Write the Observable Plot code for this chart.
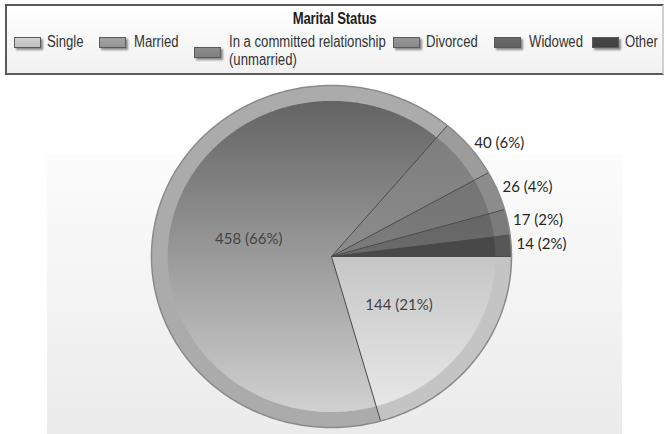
<!DOCTYPE html>
<html>
<head>
<meta charset="utf-8">
<script src="https://cdn.jsdelivr.net/npm/d3@7"></script>
<script src="https://cdn.jsdelivr.net/npm/@observablehq/plot@0.6"></script>
<style>
  html, body { margin: 0; padding: 0; background: #ffffff; }
  #page { position: relative; width: 667px; height: 434px; overflow: hidden; background: #ffffff; }
  #legend { position: absolute; left: 5px; top: 4px; width: 655px; height: 67px;
            border: 2px solid #5a5a5a; border-right-color: #d0d0d0; background: linear-gradient(#ffffff, #f1f1f1);
            font-family: "Liberation Sans", Arial, sans-serif;
            color: #333; }
  #legend .title { position: absolute; left: 0; width: 100%; top: 4px; text-align: center;
                   font-weight: bold; font-size: 16px; color: #1e1e1e;
                   transform: scaleX(0.82); transform-origin: 50% 0; letter-spacing: -0.2px; }
  #legend .sw { position: absolute; width: 25px; height: 9px; border: 1px solid #5a5a5a;
                box-shadow: 2px 2px 2px #8a8a8a; }
  #legend .lab { position: absolute; font-size: 16px; line-height: 18px; white-space: pre;
                 transform: scaleX(0.82); transform-origin: 0 0; }
  #panel { position: absolute; left: 47px; top: 154px; width: 575px; height: 280px;
           background: linear-gradient(#fcfcfc, #ebebeb); }
  #chart { position: absolute; left: 0; top: 80px; }
</style>
</head>
<body>
<div id="page">
  <div id="panel"></div>
  <div id="legend"><div class="title">Marital Status</div></div>
  <div id="chart"></div>
</div>
<script>
// ---- data ----
const categories = ["Single", "Married", "In a committed relationship\n(unmarried)", "Divorced", "Widowed", "Other"];
const counts = [144, 458, 40, 26, 17, 14];
const percentLabels = ["21%", "66%", "6%", "4%", "2%", "2%"];
// ---- styles ----
const innerTop    = ["#c6c6c6", "#5e5e5e", "#787878", "#6a6a6a", "#5a5a5a", "#3c3c3c"];
const innerBottom = ["#ececec", "#d6d6d6", "#8c8c8c", "#7c7c7c", "#6a6a6a", "#484848"];
const rimColors   = ["#c4c4c4", "#ababab", "#9c9c9c", "#8c8c8c", "#7a7a7a", "#575757"];
const swatchColors = ["#d2d2d2", "#a3a3a3", "#8c8c8c", "#969696", "#6a6a6a", "#474747"];
const swatchPos = [[14, 37], [99, 37], [194, 47], [393, 37], [494, 37], [592, 37]];
const textPos   = [[47, 33], [134, 33], [229, 33], [426, 33], [529, 33], [625, 33]];

// ---- legend (HTML) ----
const legend = document.getElementById("legend");
categories.forEach((c, i) => {
  const s = document.createElement("div");
  s.className = "sw";
  s.style.left = (swatchPos[i][0] - 7) + "px";
  s.style.top = (swatchPos[i][1] - 6) + "px";
  s.style.background = `linear-gradient(${swatchColors[i]}, ${d3.color(swatchColors[i]).darker(0.25)})`;
  legend.appendChild(s);
  const t = document.createElement("div");
  t.className = "lab";
  t.style.left = (textPos[i][0] - 7) + "px";
  t.style.top = (textPos[i][1] - 6) + "px";
  t.textContent = c;
  legend.appendChild(t);
});

// ---- pie geometry from the data ----
const W = 667, H = 354;
const cx = 331, cy = 176, rx = 180, ry = 171, innerFrac = 0.91;
const arcs = d3.pie().sort(null).value(d => d)
  .startAngle(Math.PI / 2).endAngle(Math.PI / 2 + 2 * Math.PI)(counts);

function slicePoints(a, r, i) {
  const pts = [{x: 0, y: 0, k: i}];
  const n = Math.max(4, Math.ceil((a.endAngle - a.startAngle) / 0.01));
  for (let j = 0; j <= n; j++) {
    const t = a.startAngle + (a.endAngle - a.startAngle) * j / n;
    pts.push({x: r * Math.sin(t), y: r * Math.cos(t), k: i});
  }
  return pts;
}

const marks = [];
arcs.forEach((a, i) => {
  marks.push(Plot.line(slicePoints(a, 1, i), {x: "x", y: "y", curve: "linear-closed", fill: rimColors[i], stroke: "none"}));
});
arcs.forEach((a, i) => {
  marks.push(Plot.line(slicePoints(a, innerFrac, i), {x: "x", y: "y", curve: "linear-closed", fill: `url(#g${i})`, stroke: "none"}));
});
// separators
const seps = arcs.map(a => ({x: Math.sin(a.startAngle), y: Math.cos(a.startAngle)}));
marks.push(Plot.link(seps, {x1: 0, y1: 0, x2: "x", y2: "y", stroke: "#4a4a4a", strokeWidth: 1}));
// outline
const ring = d3.range(0, 361).map(d => ({x: Math.sin(d * Math.PI / 180), y: Math.cos(d * Math.PI / 180)}));
marks.push(Plot.line(ring, {x: "x", y: "y", stroke: "#8a8a8a", strokeWidth: 1.5}));

// labels
const labels = arcs.map((a, i) => {
  const m = (a.startAngle + a.endAngle) / 2;
  const inside = counts[i] / d3.sum(counts) > 0.1;
  const r = inside ? 0.47 : 1.03;
  return {x: r * Math.sin(m), y: r * Math.cos(m), text: `${counts[i]} (${percentLabels[i]})`, inside};
});
marks.push(Plot.text(labels.filter(d => d.inside), {x: "x", y: "y", text: "text", fill: "#444",
  fontSize: 15, fontFamily: "Lato, 'Open Sans', sans-serif", textAnchor: "middle"}));
marks.push(Plot.text(labels.filter(d => !d.inside), {x: "x", y: "y", text: "text", fill: "#262626",
  fontSize: 15, fontFamily: "Lato, 'Open Sans', sans-serif", textAnchor: "start", dy: -1}));

const svg = Plot.plot({
  width: W, height: H,
  margin: 0,
  x: {domain: [-1, 1], range: [cx - rx, cx + rx], axis: null},
  y: {domain: [-1, 1], range: [cy + ry, cy - ry], axis: null},
  style: {background: "transparent", overflow: "visible"},
  marks
});

// gradients for the slice faces
const defs = d3.select(svg).insert("defs", ":first-child");
innerTop.forEach((c, i) => {
  const g = defs.append("linearGradient").attr("id", `g${i}`)
    .attr("gradientUnits", "userSpaceOnUse")
    .attr("x1", 0).attr("x2", 0);
  if (i === 0) g.attr("y1", cy).attr("y2", cy + ry);
  else if (i === 1) g.attr("y1", cy - ry).attr("y2", cy + ry);
  else g.attr("y1", cy - ry).attr("y2", cy);
  g.append("stop").attr("offset", 0).attr("stop-color", c);
  g.append("stop").attr("offset", 1).attr("stop-color", innerBottom[i]);
});
document.getElementById("chart").appendChild(svg);
</script>
</body>
</html>
